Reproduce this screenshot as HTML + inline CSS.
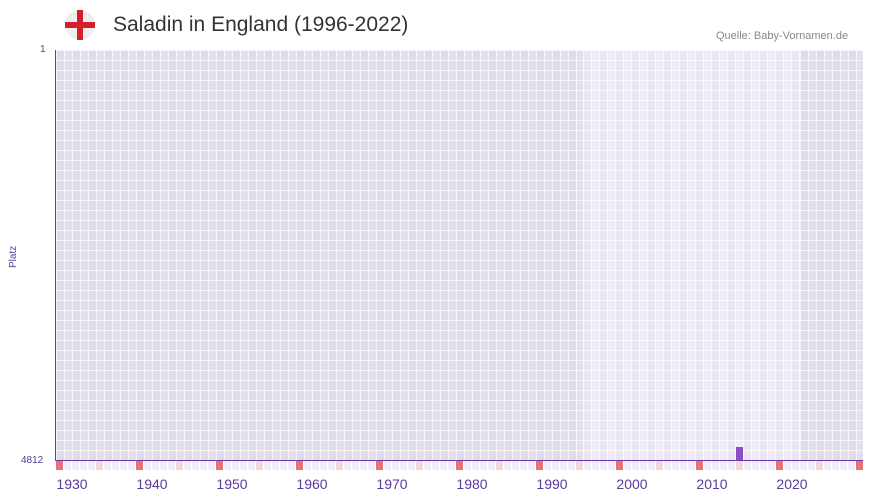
<!DOCTYPE html>
<html><head><meta charset="utf-8"><style>
body{margin:0;width:873px;height:502px;background:#fff;font-family:"Liberation Sans",sans-serif;position:relative;overflow:hidden}
.a{position:absolute}
.grid{top:50px;height:410px;background-image:
linear-gradient(to bottom,rgba(255,255,255,.7) 1px,transparent 1px),
linear-gradient(to right,rgba(255,255,255,.7) 1px,transparent 1px),
repeating-linear-gradient(to right,rgba(0,0,0,.02) 0 8px,transparent 8px 16px);
background-size:8px 10px,8px 10px,16px 10px;}
.yr{top:476px;font-size:14px;color:#5a3a9a;width:40px;text-align:center}
</style></head><body>
<svg class="a" style="left:64px;top:9px" width="32" height="32"><circle cx="16" cy="16" r="15" fill="#eee"/><rect x="13" y="1" width="6" height="30" fill="#d21f2b"/><rect x="1" y="13" width="30" height="6" fill="#d21f2b"/></svg>
<div class="a" style="left:113px;top:13px;font-size:21px;color:#333">Saladin in England (1996-2022)</div>
<div class="a" style="left:716px;top:30px;font-size:11px;color:#888">Quelle: Baby-Vornamen.de</div>
<div class="a grid" style="left:56px;width:527px;background-color:#e3dfed"></div>
<div class="a grid" style="left:583px;width:217px;background-color:#efebf9"></div>
<div class="a grid" style="left:800px;width:63px;background-color:#e3dfed"></div>
<div class="a" style="left:55px;top:50px;width:1px;height:411px;background:#6a3aa8"></div>
<div class="a" style="left:55px;top:460px;width:808px;height:1px;background:#6a3aa8"></div>
<div class="a" style="left:736px;top:447px;width:7px;height:13px;background:#8b4fc6"></div>
<div class="a" style="left:56px;top:461px;width:807px;height:9px;background-image:linear-gradient(to right,transparent 7px,#fff 7px);background-size:8px 9px;background-color:#f0ebf9"></div>
<div class="a" style="left:56px;top:461px;width:807px;height:9px;background-image:linear-gradient(to right,#e97078 0 7px,transparent 7px 40px,#f5d5de 40px 47px,transparent 47px);background-size:80px 9px"></div>
<div class="a" style="left:40px;top:44px;font-size:10px;color:#5a3a9a">1</div>
<div class="a" style="left:21px;top:455px;font-size:10px;color:#5a3a9a">4812</div>
<div class="a" style="left:8px;top:268px;font-size:10px;color:#5a3a9a;transform:rotate(-90deg);transform-origin:left top">Platz</div>
<div class="a yr" style="left:52px">1930</div>
<div class="a yr" style="left:132px">1940</div>
<div class="a yr" style="left:212px">1950</div>
<div class="a yr" style="left:292px">1960</div>
<div class="a yr" style="left:372px">1970</div>
<div class="a yr" style="left:452px">1980</div>
<div class="a yr" style="left:532px">1990</div>
<div class="a yr" style="left:612px">2000</div>
<div class="a yr" style="left:692px">2010</div>
<div class="a yr" style="left:772px">2020</div>
</body></html>
